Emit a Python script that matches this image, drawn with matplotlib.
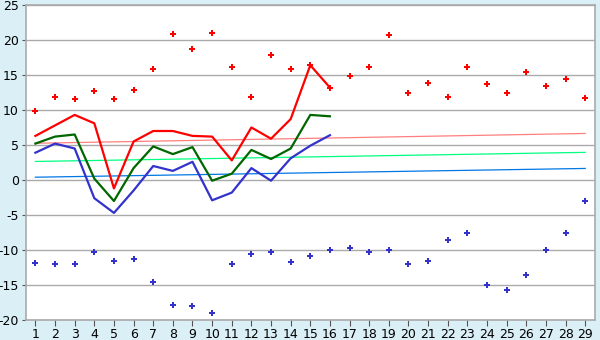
# Daily temperature chart: max/min points, averages and trend lines
import matplotlib.pyplot as plt
import numpy as np

plt.rcParams['axes.unicode_minus'] = False

# days of the month
days = np.arange(1, 30)

# daily max (red points) and min (blue points)
t_max = [9.8, 11.8, 11.6, 12.7, 11.6, 12.9, 15.9, 20.9, 18.7, 21.0,
         16.1, 11.9, 17.9, 15.9, 16.4, 13.2, 14.9, 16.2, 20.7, 12.4,
         13.8, 11.9, 16.1, 13.7, 12.5, 15.4, 13.5, 14.4, 11.7]
t_min = [-11.9, -12.0, -12.0, -10.3, -11.6, -11.3, -14.6, -17.9, -18.0, -19.0,
         -12.0, -10.6, -10.3, -11.7, -10.9, -10.0, -9.7, -10.3, -10.0, -12.0,
         -11.6, -8.6, -7.5, -15.0, -15.7, -13.6, -10.0, -7.5, -3.0]

# averages for the first 16 days
line_days = np.arange(1, 17)
avg_max = [6.3, 7.8, 9.3, 8.1, -1.2, 5.5, 7.0, 7.0, 6.3, 6.2,
           2.8, 7.5, 5.9, 8.7, 16.4, 13.2]
avg_mean = [5.2, 6.2, 6.5, 0.2, -3.0, 1.7, 4.8, 3.7, 4.7, -0.1,
            0.9, 4.3, 3.0, 4.5, 9.3, 9.1]
avg_min = [3.9, 5.2, 4.5, -2.6, -4.7, -1.5, 2.0, 1.3, 2.6, -2.9,
           -1.8, 1.7, -0.1, 3.1, 4.9, 6.4]

# normal (trend) lines, start and end values
trend_days = [1, 29]
trend_max = [5.25, 6.65]
trend_mean = [2.65, 3.95]
trend_min = [0.4, 1.65]

fig = plt.figure(figsize=(6, 3.4), dpi=100, facecolor='#daeff6')
ax = fig.add_axes([0.0433, 0.0588, 0.9484, 0.9265])
ax.set_facecolor('white')

# grid
ax.set_ylim(-20, 25)
ax.set_xlim(0.52, 29.5)
ax.set_yticks(range(-20, 30, 5))
ax.set_xticks(days)
ax.grid(axis='y', color='#aaaaaa', linewidth=1.0)
ax.set_axisbelow(True)
for s in ax.spines.values():
    s.set_color('#aaaaaa')
    s.set_linewidth(1.2)
ax.tick_params(axis='both', labelsize=9, color='#555555', length=3, width=0.8, pad=2)
ax.tick_params(axis='x', length=4)

# trend lines
ax.plot(trend_days, trend_max, color='#ff7f7f', linewidth=0.9)
ax.plot(trend_days, trend_mean, color='#00ff80', linewidth=0.9)
ax.plot(trend_days, trend_min, color='#0077e6', linewidth=0.9)

# average lines
ax.plot(line_days, avg_max, color='#ff0000', linewidth=1.6)
ax.plot(line_days, avg_mean, color='#006600', linewidth=1.6)
ax.plot(line_days, avg_min, color='#3333cc', linewidth=1.6)

# extremes
ax.plot(days, t_max, linestyle='none', marker='P', markersize=5,
        color='#ff0000', markeredgewidth=0)
ax.plot(days, t_min, linestyle='none', marker='P', markersize=5,
        color='#3333cc', markeredgewidth=0)

plt.savefig('out.png', dpi=100, facecolor=fig.get_facecolor())
